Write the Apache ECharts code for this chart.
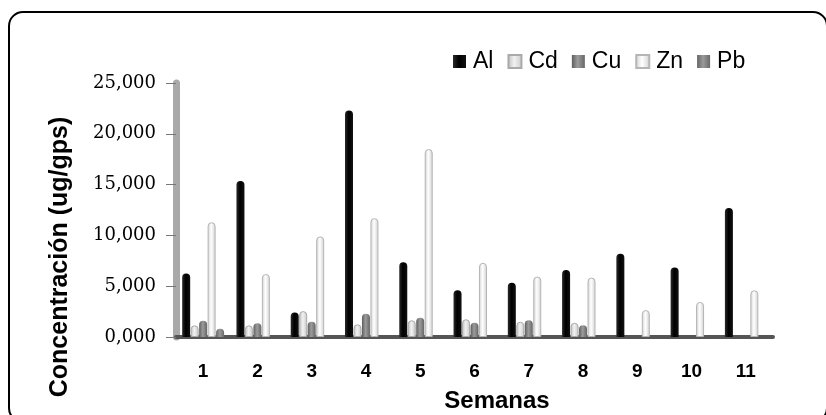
<!DOCTYPE html>
<html>
<head>
<meta charset="utf-8">
<script src="https://cdn.jsdelivr.net/npm/echarts@6/dist/echarts.min.js"></script>
<style>
  html, body { margin: 0; padding: 0; background: #fff; }
  #main { width: 826px; height: 415px; }
</style>
</head>
<body>
<div id="main"></div>
<script>
// semanas y concentraciones (ug/gps)
var semanas = ['1', '2', '3', '4', '5', '6', '7', '8', '9', '10', '11'];
var al = [6.25, 15.35, 2.4, 22.3, 7.35, 4.6, 5.35, 6.6, 8.2, 6.85, 12.7];
var cd = [1.15, 1.15, 2.55, 1.25, 1.65, 1.75, 1.5, 1.4, null, null, null];
var cu = [1.6, 1.35, 1.5, 2.3, 1.9, 1.4, 1.65, 1.15, null, null, null];
var zn = [11.3, 6.2, 9.9, 11.7, 18.5, 7.3, 5.95, 5.85, 2.65, 3.45, 4.6];
var pb = [0.8, null, null, null, null, null, null, null, null, null, null];
var yTicks = [0, 5, 10, 15, 20, 25];

var chart = echarts.init(document.getElementById('main'));

// gradiente horizontal para que las barras parezcan cilindros
function cil(a, b, c) {
    return new echarts.graphic.LinearGradient(0, 0, 1, 0, [
        { offset: 0, color: a },
        { offset: 0.45, color: b },
        { offset: 1, color: c }
    ]);
}

function serie(nombre, datos, color, borde) {
    return {
        name: nombre,
        type: 'bar',
        data: datos,
        barWidth: 8,
        barGap: '6%',
        itemStyle: {
            color: color,
            borderColor: borde,
            borderWidth: borde ? 1 : 0,
            borderRadius: [4, 4, 0, 0]
        }
    };
}

var option = {
    animation: false,
    backgroundColor: '#fff',
    textStyle: { fontFamily: 'Liberation Sans' },
    grid: { left: 176, right: 53, top: 83, bottom: 78 },
    legend: {
        left: 448,
        top: 45,
        itemWidth: 13,
        itemHeight: 13,
        itemGap: 14,
        icon: 'rect',
        textStyle: { fontSize: 23, color: '#000', fontFamily: 'Liberation Sans', padding: [0, 0, 0, 2] },
        data: ['Al', 'Cd', 'Cu', 'Zn', 'Pb']
    },
    xAxis: {
        type: 'category',
        data: semanas,
        axisLine: { lineStyle: { color: '#555', width: 4 } },
        axisTick: { length: 8, lineStyle: { color: '#888' } },
        axisLabel: {
            margin: 25,
            fontSize: 19,
            fontWeight: 'bold',
            color: '#000',
            fontFamily: 'Liberation Sans'
        }
    },
    yAxis: {
        type: 'value',
        min: yTicks[0],
        max: yTicks[yTicks.length - 1],
        interval: 5,
        axisLine: { show: true, lineStyle: { color: '#a9a9a9', width: 7 } },
        axisTick: { show: true, length: 10, lineStyle: { color: '#777' } },
        splitLine: { show: false },
        axisLabel: {
            margin: 20,
            fontSize: 18,
            color: '#000',
            fontFamily: 'DejaVu Serif',
            formatter: function (v) { return v.toFixed(3).replace('.', ','); }
        }
    },
    graphic: [
        {
            type: 'rect',
            shape: { x: 9, y: 12, width: 818, height: 410, r: 14 },
            style: { fill: 'none', stroke: '#000', lineWidth: 2 },
            silent: true
        },
        {
            type: 'text',
            x: 60, y: 257,
            rotation: Math.PI / 2,
            style: {
                text: 'Concentración (ug/gps)',
                font: 'bold 25px "Liberation Sans"',
                fill: '#000',
                textAlign: 'center',
                textVerticalAlign: 'middle'
            }
        },
        {
            type: 'text',
            x: 497, y: 401,
            style: {
                text: 'Semanas',
                font: 'bold 24px "Liberation Sans"',
                fill: '#000',
                textAlign: 'center',
                textVerticalAlign: 'middle'
            }
        }
    ],
    series: [
        serie('Al', al, cil('#2a2a2a', '#000', '#111')),
        serie('Cd', cd, cil('#bcbcbc', '#f2f2f2', '#c8c8c8'), '#aaa'),
        serie('Cu', cu, cil('#5e5e5e', '#9c9c9c', '#666')),
        serie('Zn', zn, cil('#d0d0d0', '#fff', '#cfcfcf'), '#b5b5b5'),
        serie('Pb', pb, cil('#646464', '#9a9a9a', '#6a6a6a'))
    ]
};

chart.setOption(option);
</script>
</body>
</html>
